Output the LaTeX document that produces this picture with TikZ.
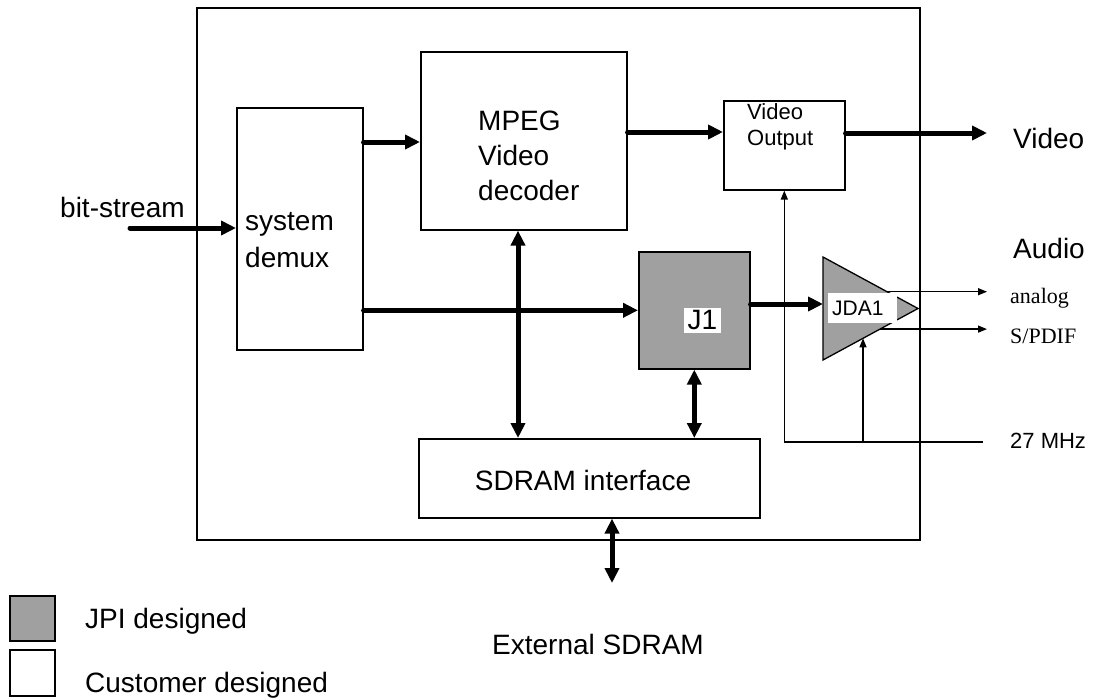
\documentclass[tikz,border=0pt]{standalone}
\usepackage{fontspec}
\setmainfont{Liberation Sans}
\newfontfamily\timesfam{Liberation Serif}
\usetikzlibrary{arrows.meta,calc}
\definecolor{jpigray}{RGB}{160,160,160}
\begin{document}
\begin{tikzpicture}[x=1pt,y=-1pt,
  blk/.style={draw=black,line width=1.6pt,fill=white,inner sep=0pt,anchor=north west},
  jpiblk/.style={blk,fill=jpigray},
  bus/.style={line width=5pt,line cap=round,-{Triangle[length=15pt,width=14pt]}},
  dbus/.style={line width=5pt,{Triangle[length=15pt,width=14pt]}-{Triangle[length=15pt,width=14pt]}},
  sig/.style={line width=1.3pt,-{Triangle[length=9pt,width=7pt]}},
  big/.style={font=\fontsize{28}{35}\selectfont,inner sep=0pt},
  mid/.style={font=\fontsize{22}{25}\selectfont,inner sep=0pt},
  txt/.style={big,anchor=base west,align=left},
]
\useasboundingbox (0,0) rectangle (1099,698);

% chip outline
\node[blk,fill=none,minimum width=723pt,minimum height=532pt] (chip) at (196,7) {};

% functional blocks
\node[blk,minimum width=126pt,minimum height=242pt] (demux) at (236,107) {};
\node[blk,minimum width=206pt,minimum height=178pt] (mpeg) at (420,51) {};
\node[blk,minimum width=121pt,minimum height=89pt] (vo) at (723,100) {};
\node[jpiblk,minimum width=111pt,minimum height=117pt] (J1) at (638,251) {};
\node[blk,minimum width=341pt,minimum height=79pt] (sdram) at (418,438) {};

% block texts (multi-line nodes sit on the baseline of their last line)
\node[txt,font=\fontsize{28}{37}\selectfont] (demuxtxt) at (245,267) {system\\demux};
\node[txt] (mpegtxt) at (478,200) {MPEG\\Video\\decoder};
\node[mid,anchor=base west,align=left] (votxt) at (747,145) {Video\\Output};
\node[big,fill=white,inner xsep=4pt,inner ysep=3pt] (j1txt) at ($(J1.center)+(8,10)$) {J1};
\node[big,anchor=base] (sdramtxt) at (583,490) {SDRAM interface};

% audio DAC triangle
\coordinate (ttl) at (823,257);
\coordinate (tbl) at (823,360);
\coordinate (tap) at (918,308.5);
\draw[line width=1.3pt,fill=jpigray] (ttl) -- (tap) -- (tbl) -- cycle;
\node[font=\fontsize{21}{24}\selectfont,fill=white,anchor=north west,inner xsep=4pt,inner ysep=0pt,
      text width=61pt,minimum height=30pt,align=left] (jda) at (828,293) {JDA1};
\coordinate (jdain) at (823,304);

% main data paths
\coordinate (bsin) at (130,228);
\draw[bus] (bsin) -- (demux.west |- bsin);
\coordinate (mpin) at ($(demux.north east)+(0,35)$);
\draw[bus] (mpin) -- (mpin -| mpeg.west);
\draw[bus] (demux.east |- J1.west) -- (J1.west);
\coordinate (voin) at ($(vo.north west)+(0,32)$);
\draw[bus] (voin -| mpeg.east) -- (voin);
\coordinate (vidout) at (987,133);
\draw[bus] (vidout -| vo.east) -- (vidout);
\draw[bus] (J1.east |- jdain) -- (jdain);

% memory paths
\coordinate (colA) at (518,0);
\draw[dbus] (colA |- mpeg.south) -- (colA |- sdram.north);
\draw[dbus] (J1.south) -- (J1.south |- sdram.north);
\coordinate (extmem) at (612,583);
\draw[dbus] (extmem |- sdram.south) -- (extmem);

% audio outputs
\coordinate (anaout) at ($(ttl)!0.674!(tap)$);
\draw[sig] (anaout) -- (anaout -| 987,0);
\coordinate (spdout) at ($(tbl)!0.6!(tap)$);
\draw[sig] (spdout) -- (spdout -| 987,0);

% 27 MHz clock distribution
\coordinate (clk) at (983,442);
\draw[sig] (clk) -| (vo.south);
\coordinate (dacclk) at ($(tbl)!0.421!(tap)$);
\draw[sig] (dacclk |- clk) -- (dacclk);

% external labels
\node[txt] (bstxt) at (60,217) {bit-stream};
\node[txt] (vidtxt) at (1013,148) {Video};
\node[txt] (audtxt) at (1013,258) {Audio};
\node[font=\timesfam\fontsize{22}{25}\selectfont,inner sep=0pt,anchor=base west] (anatxt) at (1010,303) {analog};
\node[font=\timesfam\fontsize{22}{25}\selectfont,inner sep=0pt,anchor=base west] (spdtxt) at (1010,343) {S/PDIF};
\node[mid,anchor=base west] (clktxt) at (1010,448) {27 MHz};
\node[txt] (exttxt) at (492,654) {External SDRAM};

% legend
\node[jpiblk,minimum width=45pt,minimum height=45pt] (legjpi) at (9,595) {};
\node[blk,minimum width=45pt,minimum height=46pt] (legcust) at (9,649) {};
\node[txt] (legjpitxt) at (85,628) {JPI designed};
\node[txt] (legcusttxt) at (85,692) {Customer designed};
\end{tikzpicture}
\end{document}
